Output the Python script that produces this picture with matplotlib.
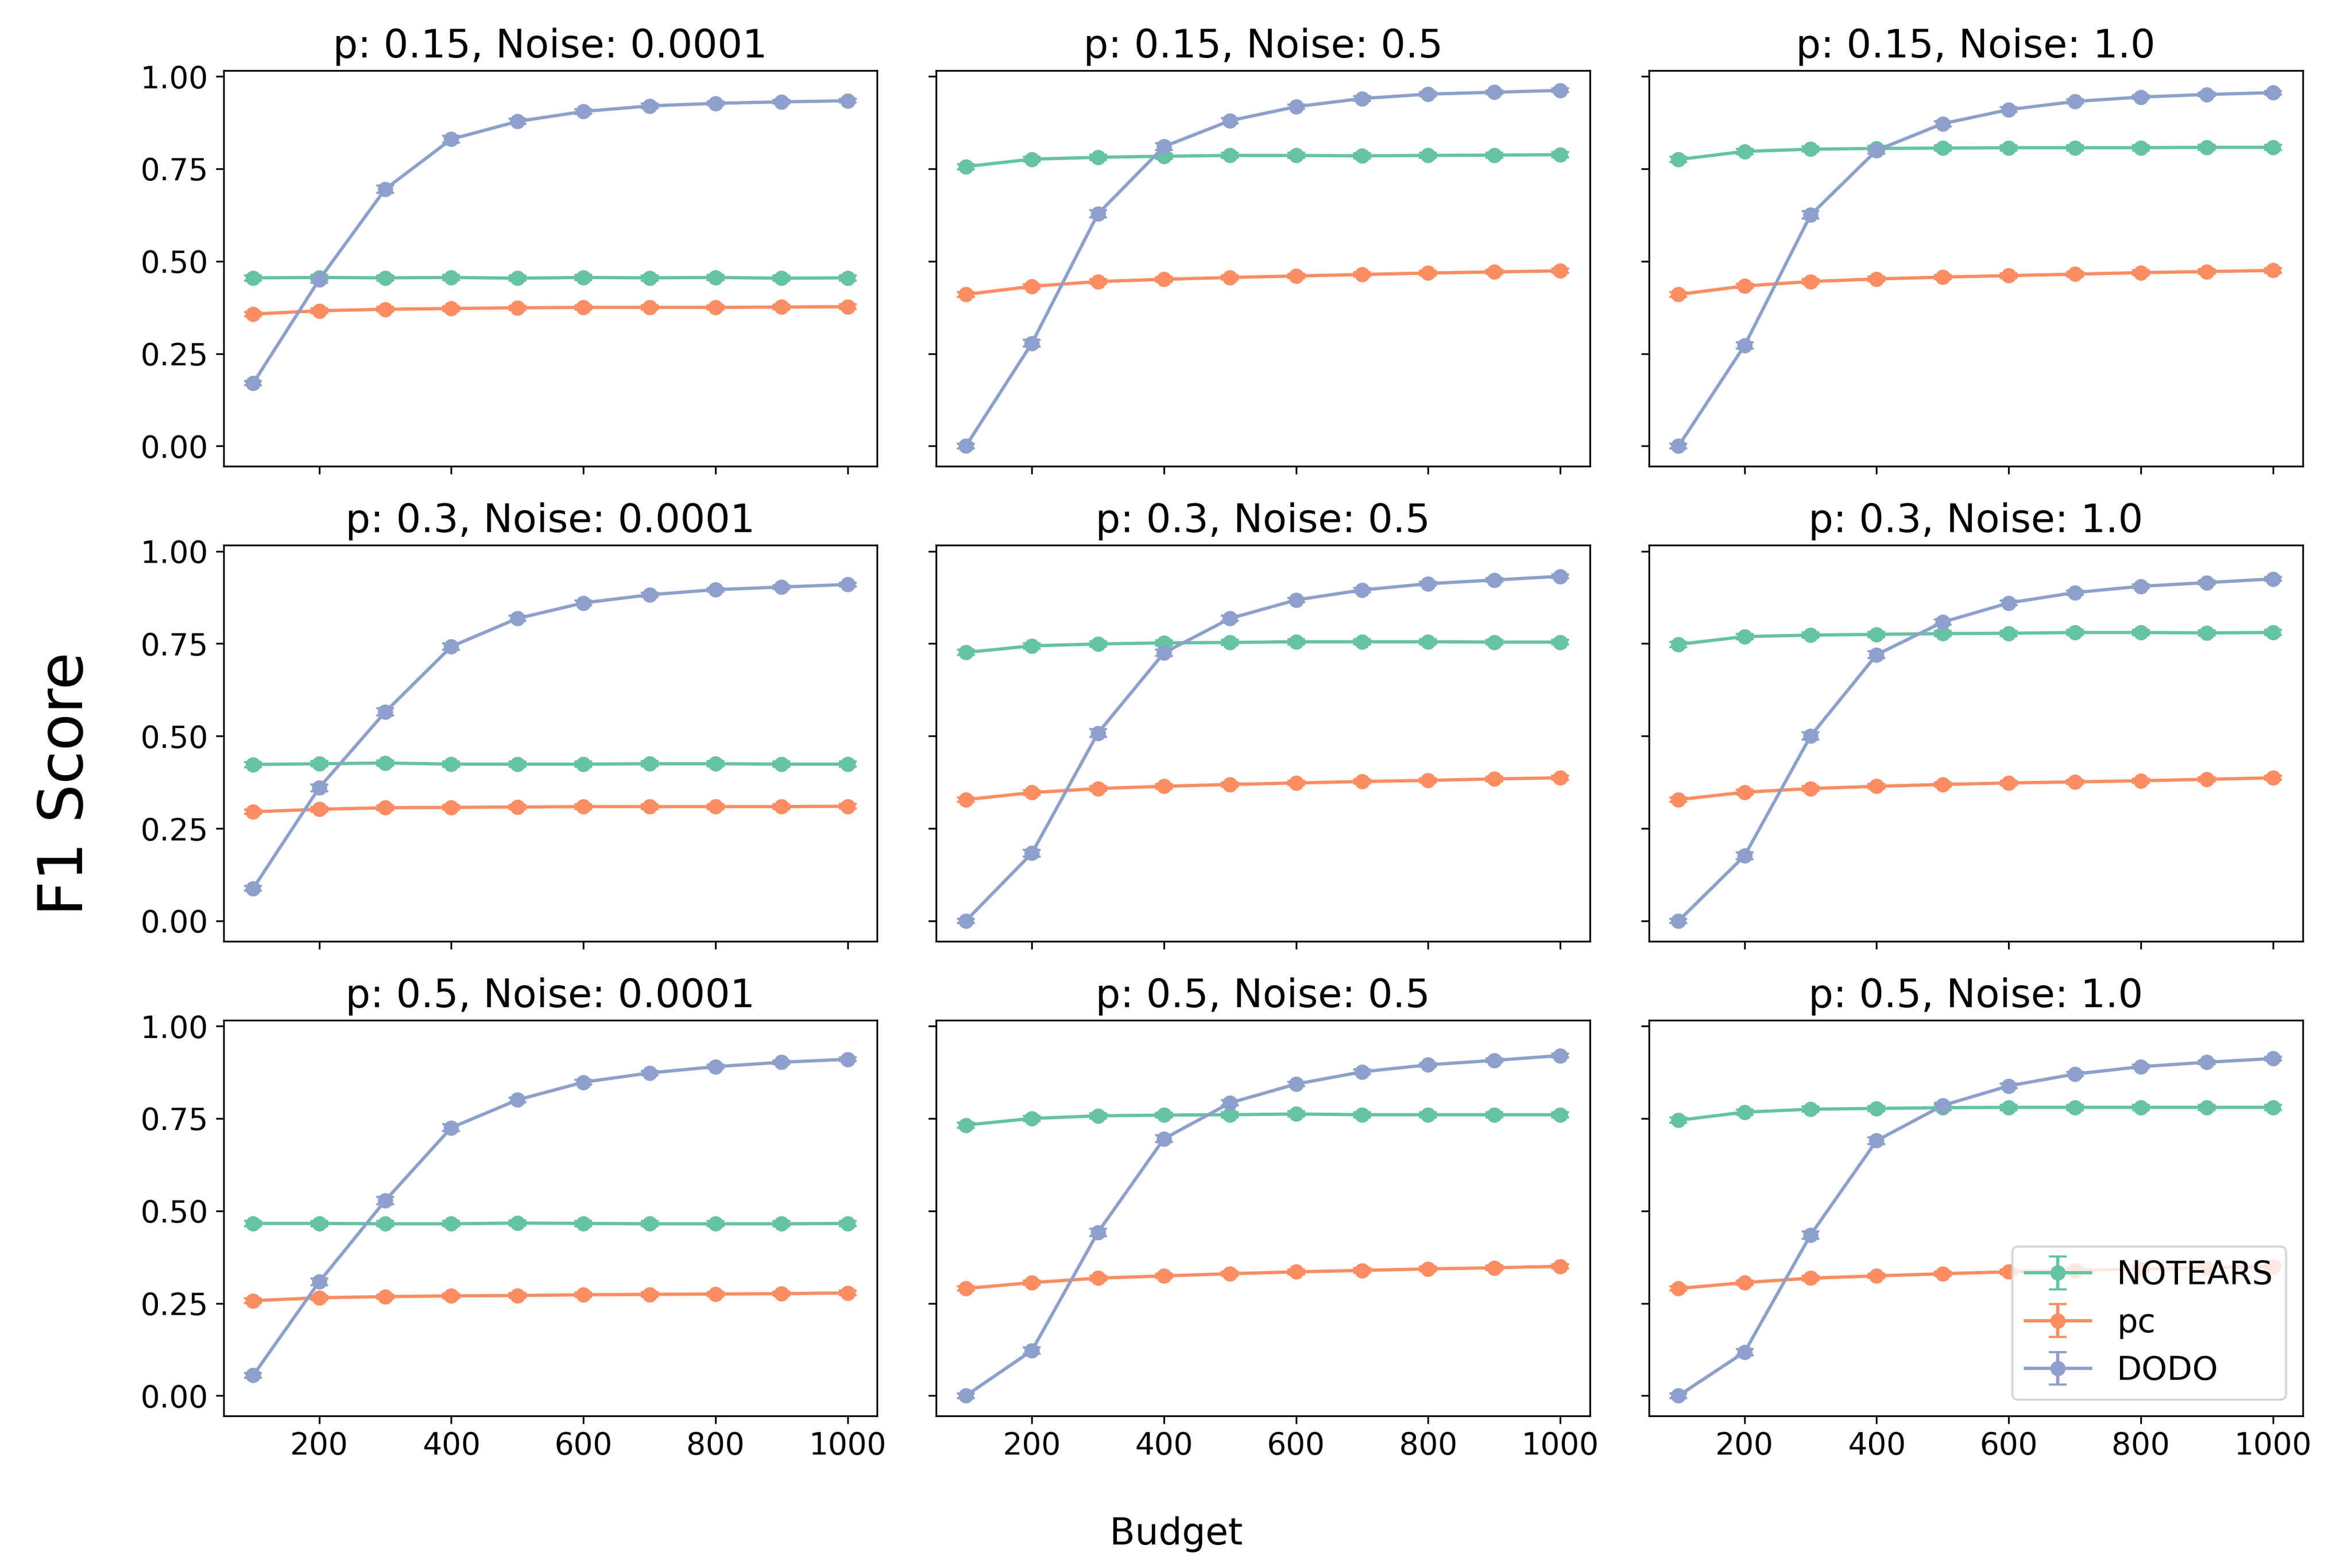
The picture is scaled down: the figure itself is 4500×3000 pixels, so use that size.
import matplotlib.pyplot as plt
import numpy as np

budgets = [100, 200, 300, 400, 500, 600, 700, 800, 900, 1000]
p_values = [0.15, 0.3, 0.5]
noise_levels = ['0.0001', '0.5', '1.0']
methods = ['NOTEARS', 'pc', 'DODO']
colors = ['#66c2a5', '#fc8d62', '#8da0cb']

# mean F1 per panel (row = p, col = noise)
notears = [
    [[0.455, 0.456, 0.455, 0.456, 0.454, 0.456, 0.455, 0.456, 0.454, 0.455],
     [0.756, 0.776, 0.781, 0.784, 0.786, 0.786, 0.785, 0.786, 0.787, 0.788],
     [0.775, 0.797, 0.803, 0.805, 0.806, 0.807, 0.807, 0.807, 0.808, 0.808]],
    [[0.423, 0.425, 0.427, 0.424, 0.424, 0.424, 0.425, 0.425, 0.424, 0.424],
     [0.726, 0.744, 0.749, 0.752, 0.753, 0.755, 0.755, 0.755, 0.754, 0.754],
     [0.748, 0.769, 0.773, 0.775, 0.777, 0.778, 0.780, 0.780, 0.779, 0.780]],
    [[0.466, 0.466, 0.465, 0.465, 0.467, 0.466, 0.465, 0.465, 0.465, 0.466],
     [0.732, 0.750, 0.757, 0.759, 0.760, 0.762, 0.760, 0.760, 0.760, 0.760],
     [0.745, 0.767, 0.775, 0.777, 0.779, 0.780, 0.780, 0.780, 0.780, 0.780]],
]
pc = [
    [[0.357, 0.366, 0.370, 0.372, 0.374, 0.375, 0.375, 0.375, 0.376, 0.377],
     [0.410, 0.432, 0.445, 0.451, 0.456, 0.460, 0.464, 0.468, 0.471, 0.474],
     [0.410, 0.433, 0.445, 0.452, 0.457, 0.461, 0.465, 0.469, 0.472, 0.475]],
    [[0.295, 0.302, 0.306, 0.307, 0.308, 0.309, 0.309, 0.309, 0.309, 0.310],
     [0.328, 0.347, 0.358, 0.364, 0.369, 0.373, 0.377, 0.380, 0.384, 0.387],
     [0.328, 0.348, 0.358, 0.364, 0.369, 0.373, 0.376, 0.379, 0.383, 0.387]],
    [[0.257, 0.265, 0.268, 0.270, 0.271, 0.273, 0.274, 0.275, 0.276, 0.278],
     [0.290, 0.306, 0.318, 0.324, 0.330, 0.335, 0.339, 0.343, 0.346, 0.350],
     [0.290, 0.306, 0.318, 0.324, 0.330, 0.335, 0.339, 0.343, 0.346, 0.350]],
]
dodo = [
    [[0.170, 0.450, 0.695, 0.830, 0.878, 0.905, 0.920, 0.927, 0.931, 0.934],
     [0.000, 0.278, 0.628, 0.810, 0.880, 0.918, 0.940, 0.952, 0.957, 0.962],
     [0.000, 0.272, 0.625, 0.800, 0.872, 0.910, 0.932, 0.944, 0.951, 0.956]],
    [[0.088, 0.360, 0.565, 0.742, 0.818, 0.860, 0.882, 0.896, 0.903, 0.910],
     [0.000, 0.183, 0.508, 0.725, 0.818, 0.868, 0.895, 0.912, 0.922, 0.932],
     [0.000, 0.176, 0.500, 0.720, 0.808, 0.860, 0.888, 0.905, 0.915, 0.925]],
    [[0.055, 0.308, 0.528, 0.725, 0.800, 0.848, 0.873, 0.890, 0.902, 0.910],
     [0.000, 0.122, 0.442, 0.695, 0.792, 0.843, 0.876, 0.895, 0.907, 0.920],
     [0.000, 0.118, 0.435, 0.690, 0.785, 0.838, 0.870, 0.890, 0.902, 0.912]],
]

# standard errors (small, roughly the same everywhere)
notears_err = [0.007, 0.007, 0.007, 0.007, 0.007, 0.007, 0.007, 0.007, 0.007, 0.007]
pc_err = [0.006, 0.006, 0.006, 0.006, 0.006, 0.006, 0.006, 0.006, 0.006, 0.006]
dodo_err = [0.006, 0.009, 0.010, 0.009, 0.007, 0.006, 0.006, 0.005, 0.005, 0.005]

means = [notears, pc, dodo]
errs = [notears_err, pc_err, dodo_err]

fig, axes = plt.subplots(3, 3, figsize=(15, 10), sharex=True, sharey=True)
fig.subplots_adjust(left=0.095, right=0.979, top=0.955, bottom=0.097,
                    wspace=0.09, hspace=0.2)

for i, p in enumerate(p_values):
    for j, noise in enumerate(noise_levels):
        ax = axes[i, j]
        for m in range(len(methods)):
            ax.errorbar(budgets, means[m][i][j], yerr=errs[m], label=methods[m],
                        color=colors[m], marker='o', markersize=6, capsize=4,
                        linewidth=1.5)
        ax.set_title(f'p: {p}, Noise: {noise}', fontsize=18)
        ax.tick_params(labelsize=14)

axes[0, 0].set_yticks([0.0, 0.25, 0.5, 0.75, 1.0])
axes[0, 0].set_xticks([200, 400, 600, 800, 1000])
axes[2, 2].legend(loc='lower right', fontsize=15)

fig.supxlabel('Budget', fontsize=17, y=0.01)
fig.supylabel('F1 Score', fontsize=28, x=0.015)

plt.savefig('out.png', dpi=300)
